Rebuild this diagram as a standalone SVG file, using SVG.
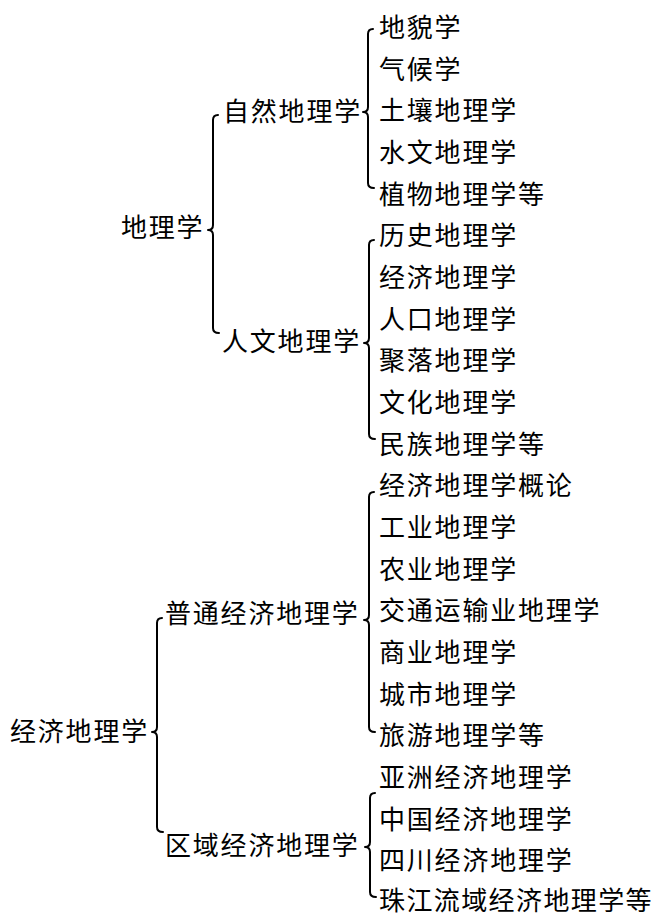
<svg xmlns="http://www.w3.org/2000/svg" width="659" height="917" viewBox="0 0 659 917">
<style>
text{font-family:"Noto Sans CJK SC","Noto Sans CJK TC",sans-serif;font-size:26px;letter-spacing:1.8px;fill:#000}
.br{fill:none;stroke:#000;stroke-width:2;stroke-linejoin:round;stroke-linecap:round}
</style>
<rect width="659" height="917" fill="#fff"/>
<g id="connectors">
<path class="br" d="M218,115 Q213,115 213,120 L213,225 Q213,230 208,230 Q213,230 213,235 L213,328 Q213,333 219,333"/>
<path class="br" d="M373,29 Q368,29 368,34 L368,107 Q368,112 363,112 Q368,112 368,117 L368,183 Q368,188 374,188"/>
<path class="br" d="M374,240 Q369,240 369,245 L369,338 Q369,343 364,343 Q369,343 369,348 L369,434 Q369,439 375,439"/>
<path class="br" d="M162,618 Q157,618 157,623 L157,727 Q157,732 152,732 Q157,732 157,737 L157,827 Q157,832 163,832"/>
<path class="br" d="M374,492 Q369,492 369,497 L369,615 Q369,620 364,620 Q369,620 369,625 L369,727 Q369,732 375,732"/>
<path class="br" d="M375,793 Q370,793 370,798 L370,842 Q370,847 365,847 Q370,847 370,852 L370,892 Q370,897 376,897"/>
</g>
<g id="n-dilixue"><text x="121" y="237">地理学</text></g>
<g id="n-ziran"><text x="223" y="121">自然地理学</text></g>
<g id="n-renwen"><text x="222" y="351">人文地理学</text></g>
<g id="n-jingji"><text x="10" y="741">经济地理学</text></g>
<g id="n-putong"><text x="165" y="623">普通经济地理学</text></g>
<g id="n-quyu"><text x="165" y="855">区域经济地理学</text></g>
<g id="n-1"><text x="379" y="37">地貌学</text></g>
<g id="n-2"><text x="379" y="78.7">气候学</text></g>
<g id="n-3"><text x="379" y="120.3">土壤地理学</text></g>
<g id="n-4"><text x="379" y="162">水文地理学</text></g>
<g id="n-5"><text x="379" y="203.7">植物地理学等</text></g>
<g id="n-6"><text x="379" y="245.3">历史地理学</text></g>
<g id="n-7"><text x="379" y="287">经济地理学</text></g>
<g id="n-8"><text x="379" y="328.7">人口地理学</text></g>
<g id="n-9"><text x="379" y="370.3">聚落地理学</text></g>
<g id="n-10"><text x="379" y="412">文化地理学</text></g>
<g id="n-11"><text x="379" y="453.7">民族地理学等</text></g>
<g id="n-12"><text x="379" y="495.4">经济地理学概论</text></g>
<g id="n-13"><text x="379" y="537">工业地理学</text></g>
<g id="n-14"><text x="379" y="578.7">农业地理学</text></g>
<g id="n-15"><text x="379" y="620.4">交通运输业地理学</text></g>
<g id="n-16"><text x="379" y="662">商业地理学</text></g>
<g id="n-17"><text x="379" y="703.7">城市地理学</text></g>
<g id="n-18"><text x="379" y="745.4">旅游地理学等</text></g>
<g id="n-19"><text x="379" y="787">亚洲经济地理学</text></g>
<g id="n-20"><text x="379" y="828.7">中国经济地理学</text></g>
<g id="n-21"><text x="379" y="870.4">四川经济地理学</text></g>
<g id="n-22"><text x="379" y="910" style="letter-spacing:1.4px">珠江流域经济地理学等</text></g>
</svg>
